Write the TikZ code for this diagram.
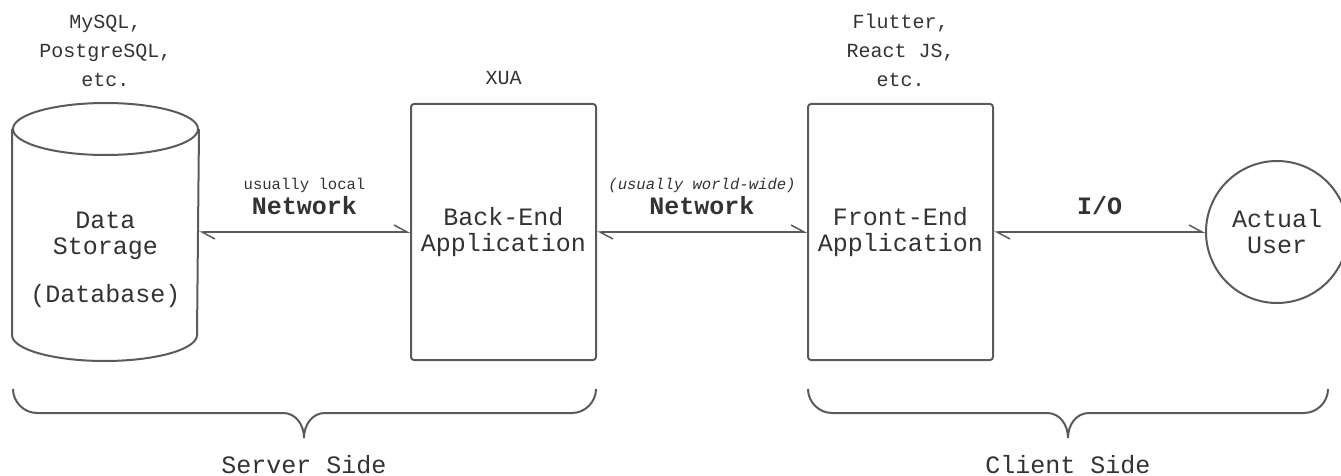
\documentclass[tikz,border=0pt]{standalone}
\usepackage{fontspec}
\setmainfont{Liberation Mono}
\usetikzlibrary{arrows.meta,positioning}
\definecolor{linegray}{HTML}{5A5A5A}
\definecolor{textgray}{HTML}{333333}

\begin{document}
\begin{tikzpicture}[x=1pt, y=-1pt, every node/.style={inner sep=0pt, text=textgray, align=center},
  big/.style={font=\fontsize{25}{26}\selectfont},
  box/.style={big, draw=linegray, line width=2pt, rounded corners=3pt, minimum width=185pt, minimum height=256pt},
  dbarea/.style={outer sep=1pt, minimum width=185pt, minimum height=256pt},
  cyl/.style={draw=linegray, line width=2pt},
  usr/.style={big, circle, draw=linegray, line width=2pt, minimum size=142pt},
  toplbl/.style={font=\fontsize{20}{29}\selectfont},
  netlbl/.style={font=\fontsize{25}{26}\selectfont\bfseries},
  note/.style={font=\fontsize{15.6}{18}\selectfont},
  arr/.style={{Straight Barb[left,length=13pt,width=14pt]}-{Straight Barb[left,length=13pt,width=14pt]}, draw=linegray, line width=1.5pt},
  brace/.style={draw=linegray, line width=2pt}]
\useasboundingbox (0,0) rectangle (1341,476);
\node[dbarea] (D) at (105.5,232) {};
% database cylinder
\draw[cyl] ([yshift=-26pt]D.north west) -- ([yshift=26pt]D.south west)
  arc[start angle=180, end angle=360, x radius=92.5pt, y radius=26pt] -- ([yshift=-26pt]D.north east);
\draw[cyl] ([yshift=-26pt]D.north) ellipse[x radius=92.5pt, y radius=26pt];
\node[big, anchor=north] (Dt) at (105.5,212) {Data\\Storage\\[22pt](Database)};
\node[box, right=211pt of D] (B) {Back-End\\Application};
\node[box, right=210pt of B] (F) {Front-End\\Application};
\node[usr, right=211pt of F] (U) {Actual\\User};
\node[toplbl, above=16pt of D] (Dn) {MySQL,\\PostgreSQL,\\etc.};
\node[toplbl, above=18pt of B] (Bn) {XUA};
\node[toplbl, above=16pt of F] (Fn) {Flutter,\\React JS,\\etc.};
\draw[arr] (D) -- node[netlbl, above=17pt] (N1) {Network} (B);
\draw[arr] (B) -- node[netlbl, above=17pt] (N2) {Network} (F);
\draw[arr] (F) -- node[netlbl, above=17pt] (IO) {I/O} (U);
\node[note, above=2pt of N1] (N1n) {usually local};
\node[note, above=2pt of N2] (N2n) {\itshape(usually world-wide)};
% side braces
\draw[brace] (13,389) .. controls (13,402) and (24,413) .. (37,413) -- (283,413) .. controls (296,413) and (304,425) .. (304,438)
  .. controls (304,425) and (312,413) .. (325,413) -- (572,413) .. controls (585,413) and (596,402) .. (596,389);
\draw[brace] (808,389) .. controls (808,402) and (819,413) .. (832,413) -- (1047,413) .. controls (1060,413) and (1068,425) .. (1068,438)
  .. controls (1068,425) and (1076,413) .. (1089,413) -- (1304,413) .. controls (1317,413) and (1328,402) .. (1328,389);
\node[big] (SS) at (304,465) {Server Side};
\node[big] (CS) at (1068,465) {Client Side};
\end{tikzpicture}
\end{document}
